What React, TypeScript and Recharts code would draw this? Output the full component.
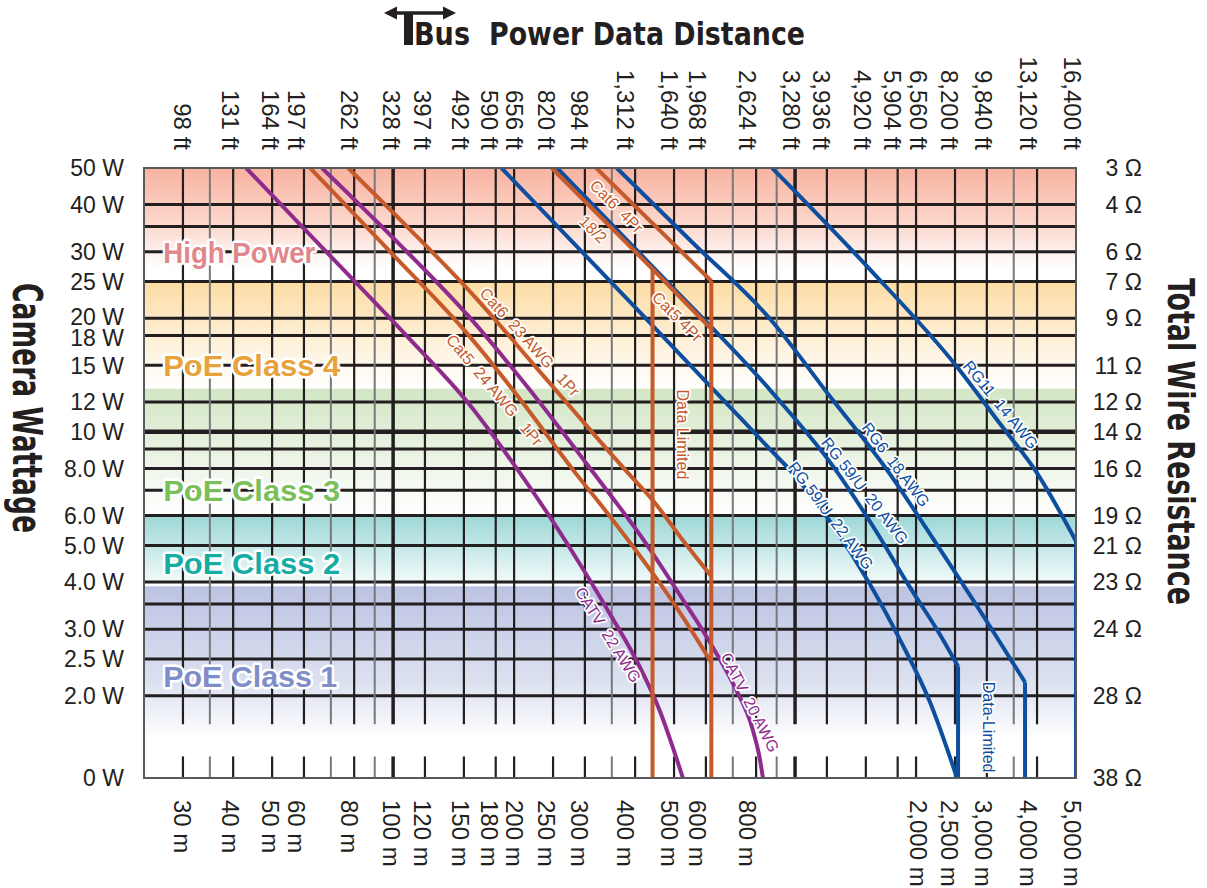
import React from "react";
import {
  ComposedChart,
  Line,
  XAxis,
  YAxis,
  ReferenceArea,
  ReferenceLine,
  ReferenceDot,
} from "recharts";

// wattage axis is logarithmic; the "0 W" row sits below an axis break
const ZERO_W = 1.21;
const BREAK_TOP = 1.68;
const BREAK_BOTTOM = 1.38;
const M_MIN = 24;
const M_MAX = 5000;

const meterTicks = [
  30, 40, 50, 60, 80, 100, 120, 150, 180, 200, 250, 300, 400, 500, 600, 800,
  1000, 1200, 1500, 1800, 2000, 2500, 3000, 4000, 5000,
];
const feetLabels = [
  "98", "131", "164", "197", "262", "328", "397", "492", "590", "656", "820",
  "984", "1,312", "1,640", "1,968", "2,624", "3,280", "3,936", "4,920",
  "5,904", "6,560", "8,200", "9,840", "13,120", "16,400",
];
const meterLabels = [
  "30", "40", "50", "60", "80", "100", "120", "150", "180", "200", "250",
  "300", "400", "500", "600", "800", "", "", "", "", "2,000", "2,500",
  "3,000", "4,000", "5,000",
];
// small sideways nudges (px) the original uses to keep crowded labels apart
const labelNudge = [
  0, -3, -1, -7, -5, -1, -2, -3, -6, 1, -6, -5, -9, -4, -8, -8, -3, -5, -3,
  -5, 3, -5, -3, -8, -3,
];

const wattTicks = [50, 40, 30, 25, 20, 18, 15, 12, 10, 8, 6, 5, 4, 3, 2.5, 2, ZERO_W];
const wattLabels = [
  "50 W", "40 W", "30 W", "25 W", "20 W", "18 W", "15 W", "12 W", "10 W",
  "8.0 W", "6.0 W", "5.0 W", "4.0 W", "3.0 W", "2.5 W", "2.0 W", "0 W",
];
// the 20 W / 18 W pair sits a little apart in the original
const wattNudge = [0, 0, 0, 0, -1, 2, 0, 0, 0, 0, 0, 0, 0, 0, 0, 0, 0];
const ohmTicks = [50, 40, 30, 25, 20, 15, 12, 10, 8, 6, 5, 4, 3, 2, ZERO_W];
const ohmLabels = [
  "3 Ω", "4 Ω", "6 Ω", "7 Ω", "9 Ω", "11 Ω", "12 Ω", "14 Ω", "16 Ω",
  "19 Ω", "21 Ω", "23 Ω", "24 Ω", "28 Ω", "38 Ω",
];

const gridMetersMajor = [
  30, 40, 50, 60, 80, 120, 150, 180, 200, 250, 300, 400, 500, 600, 800,
  1200, 1500, 1800, 2000, 2500, 3000, 4000,
];
const gridMetersMinor = [35, 70, 90, 350, 700, 900, 3500];
const gridMetersHeavy = [100, 1000];
const gridWatts = [40, 35, 30, 25, 20, 18, 15, 12, 9, 8, 7, 6, 5, 4, 3.5, 3, 2.5, 2];

// cable runs: distance in metres vs camera watts (0 = bottom row)
const catv22Awg = [
  { m: 43.1, w: 50 }, { m: 58.7, w: 35.4 }, { m: 79.5, w: 25.3 },
  { m: 110, w: 17.6 }, { m: 155, w: 11.8 }, { m: 204, w: 7.94 },
  { m: 246, w: 5.93 }, { m: 292, w: 4.45 }, { m: 347, w: 3.28 },
  { m: 412, w: 2.37 }, { m: 461, w: 1.82 }, { m: 489, w: 1.53 }, { m: 526, w: 0 },
];
const catv20Awg = [
  { m: 66.5, w: 50 }, { m: 101, w: 32.3 }, { m: 155, w: 20.1 },
  { m: 219, w: 12.9 }, { m: 304, w: 8.19 }, { m: 428, w: 5.02 },
  { m: 526, w: 3.59 }, { m: 615, w: 2.76 }, { m: 709, w: 2.1 },
  { m: 782, w: 1.645 }, { m: 818, w: 1.353 }, { m: 832, w: 0 },
];
const cat5Awg24 = [
  { m: 62.2, w: 50 }, { m: 98.3, w: 30 }, { m: 155, w: 17.9 },
  { m: 207, w: 12.2 }, { m: 280, w: 7.94 }, { m: 351, w: 5.86 },
  { m: 441, w: 4.24 }, { m: 523, w: 3.26 }, { m: 619, w: 2.45 },
];
const cat6Awg23 = [
  { m: 77.3, w: 50 }, { m: 110, w: 34.4 }, { m: 155, w: 23.6 },
  { m: 239, w: 13.9 }, { m: 393, w: 7.57 }, { m: 441, w: 6.62 },
  { m: 520, w: 5.24 }, { m: 619, w: 4.14 },
];
const wire18x2 = [{ m: 248, w: 50 }, { m: 442, w: 27 }];
const cat5Quad = [{ m: 442, w: 27 }, { m: 619, w: 18.7 }];
const cat6Quad = [{ m: 320, w: 50 }, { m: 619, w: 25.1 }];
const rg59Awg22 = [
  { m: 186, w: 50 }, { m: 412, w: 20.7 }, { m: 651, w: 12.4 },
  { m: 867, w: 8.98 }, { m: 989, w: 7.75 }, { m: 1222, w: 5.78 },
  { m: 1537, w: 3.94 }, { m: 1825, w: 2.81 }, { m: 2167, w: 1.92 },
  { m: 2529, w: 0 },
];
const rg59Awg20 = [
  { m: 256, w: 50 }, { m: 462, w: 26.1 }, { m: 867, w: 12.9 },
  { m: 1250, w: 8.04 }, { m: 1581, w: 5.51 }, { m: 1932, w: 3.87 },
  { m: 2295, w: 2.9 }, { m: 2544, w: 2.39 },
];
const rg6Awg18 = [
  { m: 360, w: 50 }, { m: 558, w: 31.6 }, { m: 867, w: 19.9 },
  { m: 1222, w: 12.4 }, { m: 1691, w: 7.94 }, { m: 2295, w: 4.88 },
  { m: 3055, w: 3.05 }, { m: 3734, w: 2.17 },
];
const rg11Awg14 = [
  { m: 877, w: 50 }, { m: 1537, w: 26.9 }, { m: 2525, w: 14.9 },
  { m: 3236, w: 10.5 }, { m: 3993, w: 7.8 }, { m: 5000, w: 5.13 },
];
// data-limited drops: distance and the wattage where the drop starts
const orangeLimits = [{ m: 442, w: 27 }, { m: 619, w: 25.1 }];
const blueLimits = [{ m: 2544, w: 2.39 }, { m: 3734, w: 2.17 }, { m: 5000, w: 5.13 }];

const PURPLE = "#8E2B8D";
const ORANGE = "#C65A2A";
const BLUE = "#0E4E9F";
const INK = "#231F20";
const SANS = "'Liberation Sans', Arial, Helvetica, sans-serif";
const NARROW = "'Liberation Sans Narrow', 'DejaVu Sans Condensed', 'Liberation Sans', sans-serif";

const toPlot = (rows: { m: number; w: number }[]) =>
  rows.map((r) => ({ m: r.m, w: r.w === 0 ? ZERO_W : r.w }));

const curves = [
  { id: "catv22", rows: catv22Awg, color: PURPLE },
  { id: "catv20", rows: catv20Awg, color: PURPLE },
  { id: "cat5_24", rows: cat5Awg24, color: ORANGE },
  { id: "cat6_23", rows: cat6Awg23, color: ORANGE },
  { id: "rg59_22", rows: rg59Awg22, color: BLUE },
  { id: "rg59_20", rows: rg59Awg20, color: BLUE },
  { id: "rg6", rows: rg6Awg18, color: BLUE },
  { id: "rg11", rows: rg11Awg14, color: BLUE },
];
const straights = [
  { id: "w18x2", rows: wire18x2, color: ORANGE },
  { id: "cat5q", rows: cat5Quad, color: ORANGE },
  { id: "cat6q", rows: cat6Quad, color: ORANGE },
  ...orangeLimits.map((d, i) => ({
    id: "olim" + i, rows: [{ m: d.m, w: d.w }, { m: d.m, w: 0 }], color: ORANGE,
  })),
  ...blueLimits.map((d, i) => ({
    id: "blim" + i, rows: [{ m: d.m, w: d.w }, { m: d.m, w: 0 }], color: BLUE,
  })),
];

const bands = [
  { id: "bandHigh", from: 50, to: 25, stops: [["0", "#F8B3A0"], ["0.5", "#FCD8CD"], ["0.88", "#FFFFFF"]] },
  { id: "bandC4", from: 25, to: 13, stops: [["0", "#FDDCA4"], ["0.55", "#FEF0D8"], ["1", "#FFFFFF"]] },
  { id: "bandC3", from: 13, to: 6, stops: [["0", "#D2E6C4"], ["0.6", "#EEF5E8"], ["1", "#FFFFFF"]] },
  { id: "bandC2", from: 6, to: 4, stops: [["0", "#9DD7D7"], ["1", "#F2FAFA"]] },
  { id: "bandC1", from: 3.9, to: ZERO_W, stops: [["0", "#BCC3E2"], ["0.5", "#DCE1F0"], ["0.8", "#FFFFFF"]] },
];

const bandLabels = [
  { text: "High Power", w: 30, color: "#E0878B", len: 152 },
  { text: "PoE Class 4", w: 15, color: "#E8A23A", len: 177 },
  { text: "PoE Class 3", w: 7, color: "#7BBF5B", len: 177 },
  { text: "PoE Class 2", w: 4.48, color: "#13ADA4", len: 177 },
  { text: "PoE Class 1", w: 2.25, color: "#7F8DC9", len: 174 },
];

const curveLabels = [
  { text: "Cat6  4Pr", m: 360, w: 39.6, angle: 45, color: ORANGE },
  { text: "18/2", m: 315, w: 34.4, angle: 45, color: ORANGE },
  { text: "Cat5 4Pr", m: 510, w: 20.2, angle: 45, color: ORANGE },
  { text: "Cat6  23 AWG   1Pr", m: 219, w: 17.3, angle: 48, color: ORANGE },
  { text: "Cat5  24 AWG   1Pr", m: 179, w: 12.9, angle: 50, color: ORANGE },
  { text: "Data Limited", m: 526, w: 9.84, angle: 90, color: ORANGE },
  { text: "CATV  22 AWG", m: 343, w: 2.9, angle: 58, color: PURPLE },
  { text: "CATV  20 AWG", m: 773, w: 1.92, angle: 63, color: PURPLE },
  { text: "RG11  14 AWG", m: 3253, w: 11.8, angle: 51, color: BLUE },
  { text: "RG6  18 AWG", m: 1783, w: 8.19, angle: 53, color: BLUE },
  { text: "RG 59/U  20 AWG", m: 1493, w: 6.99, angle: 52, color: BLUE },
  { text: "RG 59/U  22 AWG", m: 1229, w: 6.0, angle: 53, color: BLUE },
  { text: "Data-Limited", m: 3038, w: 1.65, angle: 90, color: BLUE },
];

const tickText = { fontFamily: SANS, fontSize: 24, fill: INK };

const TopTick = (props: any) => {
  const { y, payload } = props;
  const i = meterTicks.indexOf(payload.value);
  const x = props.x + labelNudge[i];
  return (
    <text x={x} y={y} dy="0.36em" textAnchor="end" transform={`rotate(90 ${x} ${y})`} {...tickText}>
      {feetLabels[i]} ft
    </text>
  );
};

const BottomTick = (props: any) => {
  const { y, payload } = props;
  const i = meterTicks.indexOf(payload.value);
  const label = meterLabels[i];
  if (!label) return <g />;
  const x = props.x + labelNudge[i];
  return (
    <text x={x} y={y} dy="0.36em" textAnchor="start" transform={`rotate(90 ${x} ${y})`} {...tickText}>
      {label} m
    </text>
  );
};

const LeftTick = (props: any) => {
  const { x, payload } = props;
  const i = wattTicks.indexOf(payload.value);
  return (
    <text x={x} y={props.y + wattNudge[i]} dy="0.36em" textAnchor="end" {...tickText} fontSize={23}>
      {wattLabels[i]}
    </text>
  );
};

const RightTick = (props: any) => {
  const { x, y, payload } = props;
  return (
    <text x={x} y={y} dy="0.36em" textAnchor="end" {...tickText} fontSize={23}>
      {ohmLabels[ohmTicks.indexOf(payload.value)]}
    </text>
  );
};

const axisCommon = {
  type: "number" as const,
  scale: "log" as const,
  allowDataOverflow: true,
  interval: 0 as const,
  tickSize: 0,
  axisLine: false,
  tickLine: false,
};

export default function App() {
  const ids = { xAxisId: "m", yAxisId: "w" };
  return (
    <div style={{ position: "absolute", left: 0, top: 0, width: 1207, height: 888, background: "#fff" }}>
      <ComposedChart width={1207} height={888} margin={{ top: 0, right: 0, bottom: 0, left: 0 }}>
        <defs>
          {bands.map((b) => (
            <linearGradient key={b.id} id={b.id} x1="0" y1="0" x2="0" y2="1">
              {b.stops.map(([o, c]) => (
                <stop key={o} offset={o} stopColor={c} />
              ))}
            </linearGradient>
          ))}
        </defs>

        <XAxis {...axisCommon} xAxisId="m" dataKey="m" orientation="bottom" height={110}
          domain={[M_MIN, M_MAX]} ticks={meterTicks} tickMargin={22} tick={<BottomTick />} />
        <XAxis {...axisCommon} xAxisId="ft" dataKey="m" orientation="top" height={168}
          domain={[M_MIN, M_MAX]} ticks={meterTicks} tickMargin={18} tick={<TopTick />} />
        <YAxis {...axisCommon} yAxisId="w" orientation="left" width={144}
          domain={[ZERO_W, 50]} ticks={wattTicks} tickMargin={20} tick={<LeftTick />} />
        <YAxis {...axisCommon} yAxisId="ohm" orientation="right" width={131}
          domain={[ZERO_W, 50]} ticks={ohmTicks} tickMargin={66} tick={<RightTick />} />

        {bands.map((b) => (
          <ReferenceArea key={b.id} {...ids} x1={M_MIN} x2={M_MAX} y1={b.to} y2={b.from}
            fill={`url(#${b.id})`} fillOpacity={1} stroke="none" zIndex={-300} />
        ))}

        {gridWatts.map((w) => (
          <ReferenceLine key={"h" + w} {...ids} y={w} stroke={INK} strokeWidth={3} zIndex={-200} />
        ))}
        <ReferenceLine {...ids} y={10} stroke={INK} strokeWidth={4.5} zIndex={-200} />

        {[
          ...gridMetersMinor.map((m) => ({ m, c: "#77787B", sw: 2 })),
          ...gridMetersMajor.map((m) => ({ m, c: INK, sw: 2.2 })),
          ...gridMetersHeavy.map((m) => ({ m, c: INK, sw: 3.5 })),
        ].flatMap((g) => [
          <ReferenceLine key={"vu" + g.m} {...ids} stroke={g.c} strokeWidth={g.sw} zIndex={-200}
            segment={[{ x: g.m, y: 50 }, { x: g.m, y: BREAK_TOP }]} />,
          <ReferenceLine key={"vl" + g.m} {...ids} stroke={g.c} strokeWidth={g.sw} zIndex={-200}
            segment={[{ x: g.m, y: BREAK_BOTTOM }, { x: g.m, y: ZERO_W }]} />,
        ])}

        {bandLabels.map((b) => (
          <ReferenceDot key={b.text} {...ids} x={26.8} y={b.w} r={0} zIndex={-150}
            shape={(p: any) => (
              <text x={p.cx} y={p.cy} dy="0.36em" fontFamily={SANS} fontWeight="bold" fontSize={30}
                fill={b.color} stroke="#fff" strokeWidth={5} strokeLinejoin="round"
                paintOrder="stroke" textLength={b.len} lengthAdjust="spacingAndGlyphs">
                {b.text}
              </text>
            )} />
        ))}

        {curves.map((c) => (
          <Line key={c.id} {...ids} data={toPlot(c.rows)} dataKey="w" type="monotone"
            stroke={c.color} strokeWidth={4} dot={false} activeDot={false}
            strokeLinejoin="round" isAnimationActive={false} />
        ))}
        {straights.map((c) => (
          <Line key={c.id} {...ids} data={toPlot(c.rows)} dataKey="w" type="linear"
            stroke={c.color} strokeWidth={4} dot={false} activeDot={false}
            strokeLinejoin="round" isAnimationActive={false} />
        ))}

        {curveLabels.map((l) => (
          <ReferenceDot key={l.text} {...ids} x={l.m} y={l.w} r={0} zIndex={1000}
            shape={(p: any) => (
              <text x={p.cx} y={p.cy} dy="0.36em" textAnchor="middle"
                transform={`rotate(${l.angle} ${p.cx} ${p.cy})`} fontFamily={SANS} fontSize={16}
                fill={l.color} stroke="#fff" strokeWidth={3.5} strokeLinejoin="round"
                paintOrder="stroke" style={{ whiteSpace: "pre" }}>
                {l.text}
              </text>
            )} />
        ))}

        <ReferenceArea {...ids} x1={M_MIN} x2={M_MAX} y1={ZERO_W} y2={50} fill="none"
          fillOpacity={0} stroke="#58595B" strokeWidth={2} zIndex={1100} />
      </ComposedChart>

      <svg width={1207} height={888} style={{ position: "absolute", left: 0, top: 0, pointerEvents: "none" }}>
        <line x1={394} y1={13} x2={446} y2={13} stroke={INK} strokeWidth={3.5} />
        <polygon points="384,13 397,6.5 397,19.5" fill={INK} />
        <polygon points="456,13 443,6.5 443,19.5" fill={INK} />
        <rect x={404} y={13} width={9} height={32} fill={INK} />
        <text x={414} y={45} fontFamily={NARROW} fontWeight="bold" fontSize={32} fill={INK}
          textLength={56} lengthAdjust="spacingAndGlyphs">Bus</text>
        <text x={489} y={45} fontFamily={NARROW} fontWeight="bold" fontSize={32} fill={INK}
          textLength={316} lengthAdjust="spacingAndGlyphs">Power Data Distance</text>
        <text x={13} y={283} transform="rotate(90 13 283)" fontFamily={NARROW} fontWeight="bold"
          fontSize={40} fill={INK} textLength={250} lengthAdjust="spacingAndGlyphs">Camera Wattage</text>
        <text x={1168} y={278} transform="rotate(90 1168 278)" fontFamily={NARROW} fontWeight="bold"
          fontSize={38} fill={INK} textLength={327} lengthAdjust="spacingAndGlyphs">Total Wire Resistance</text>
      </svg>
    </div>
  );
}
